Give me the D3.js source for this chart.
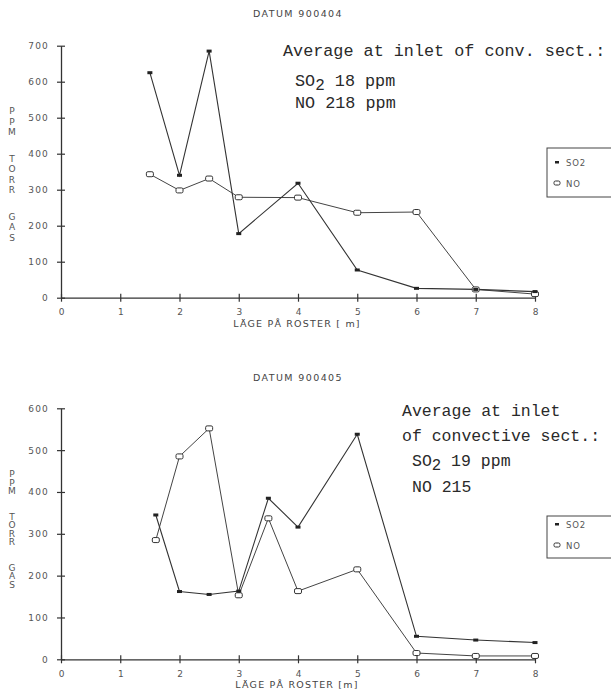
<!DOCTYPE html>
<html><head><meta charset="utf-8">
<script src="https://cdn.jsdelivr.net/npm/d3@7"></script>
<style>body{margin:0;background:#fff}svg{display:block}</style>
</head><body>
<script>
// ---- data ----
const xTickValues = [0,1,2,3,4,5,6,7,8];
const xTickLabels = ["0","1","2","3","4","5","6","7","8"];

const topTitle = "DATUM 900404";
const topYTicks = [0,100,200,300,400,500,600,700];
const topSO2x = [1.5,2,2.5,3,4,5,6,7,8];
const topSO2y = [625,340,685,178,318,77,26,23,17];
const topNOx  = [1.5,2,2.5,3,4,5,6,7,8];
const topNOy  = [343,298,331,279,278,236,238,23,10];
const topNote = ["Average at inlet of conv. sect.:"];
const topNoteSO2 = "18 ppm";
const topNoteNO = "NO 218 ppm";

const botTitle = "DATUM 900405";
const botYTicks = [0,100,200,300,400,500,600];
const botSO2x = [1.6,2,2.5,3,3.5,4,5,6,7,8];
const botSO2y = [345,162,155,163,385,316,538,55,46,40];
const botNOx  = [1.6,2,2.5,3,3.5,4,5,6,7,8];
const botNOy  = [285,485,552,153,337,163,215,15,8,8];
const botNote = ["Average at inlet","of convective sect.:"];
const botNoteSO2 = "19 ppm";
const botNoteNO = "NO 215";

const yLabelLetters = [["P","P","M"],["T","O","R","R"],["G","A","S"]];
const legendNames = ["SO2","NO"];
const xAxisTitle = ["LÄGE PÅ ROSTER [ m]","LÄGE PÅ ROSTER [m]"];

// ---- drawing ----
const W=611,H=696;
const svg=d3.select("body").append("svg").attr("width",W).attr("height",H);
const ink="#333", txt="#555";
const sans="'DejaVu Sans', sans-serif", mono="'Liberation Mono', 'DejaVu Sans Mono', monospace";

function panel(o){
  const x=d3.scaleLinear().domain([0,8]).range([61,535]);
  const y=d3.scaleLinear().domain([0,o.ymax]).range([o.y0,o.ytop]);
  const g=svg.append("g");
  // title
  g.append("text").attr("x",298).attr("y",o.titleY).attr("text-anchor","middle")
    .attr("font-family",sans).attr("font-size",9.5).attr("letter-spacing",1.4).attr("fill","#444").text(o.title);
  // y axis
  const ya=g.append("g").attr("transform","translate(61,0)")
    .call(d3.axisLeft(y).tickValues(o.yTicks).tickSizeOuter(0).tickSize(0).tickPadding(12));
  ya.select(".domain").attr("stroke",ink).attr("stroke-width",1.3);
  ya.selectAll(".tick").append("line").attr("x1",-4).attr("x2",4).attr("stroke",ink).attr("stroke-width",1.2);
  ya.selectAll("text").attr("font-family",sans).attr("font-size",9).attr("letter-spacing",1.2).attr("fill",txt);
  // x axis
  const xa=g.append("g").attr("transform",`translate(0,${o.y0})`)
    .call(d3.axisBottom(x).tickValues(xTickValues).tickFormat((d,i)=>xTickLabels[i]).tickSizeOuter(0).tickSize(0).tickPadding(11));
  xa.select(".domain").attr("stroke",ink).attr("stroke-width",1.3);
  xa.selectAll(".tick").append("line").attr("y1",-4).attr("y2",4).attr("stroke",ink).attr("stroke-width",1.2);
  xa.selectAll("text").attr("font-family",sans).attr("font-size",9).attr("fill",txt);
  g.append("text").attr("x",297).attr("y",o.y0+29).attr("text-anchor","middle")
    .attr("font-family",sans).attr("font-size",9.5).attr("letter-spacing",1.2).attr("fill","#444").text(o.xTitle);
  // y label letters
  let ly=o.labelTop;
  yLabelLetters.forEach(grp=>{
    grp.forEach(ch=>{
      g.append("text").attr("x",12).attr("y",ly).attr("text-anchor","middle")
        .attr("font-family",sans).attr("font-size",9).attr("fill",txt).text(ch);
      ly+=o.letterStep;
    });
    ly+=o.groupGap;
  });
  // lines
  const line=d3.line().x(d=>x(d[0])).y(d=>y(d[1]));
  const so2=o.so2x.map((v,i)=>[v,o.so2y[i]]);
  const no=o.nox.map((v,i)=>[v,o.noy[i]]);
  g.append("path").datum(no).attr("d",line).attr("fill","none").attr("stroke","#444").attr("stroke-width",1);
  g.append("path").datum(so2).attr("d",line).attr("fill","none").attr("stroke",ink).attr("stroke-width",1.1);
  g.selectAll(".no").data(no).enter().append("rect")
    .attr("x",d=>x(d[0])-3.5).attr("y",d=>y(d[1])-2.5).attr("width",7).attr("height",5).attr("rx",1.5)
    .attr("fill","#fff").attr("stroke",ink).attr("stroke-width",1);
  g.selectAll(".so2").data(so2).enter().append("rect")
    .attr("x",d=>x(d[0])-2.5).attr("y",d=>y(d[1])-1.5).attr("width",5).attr("height",3).attr("fill","#222");
  // annotation
  o.note.forEach((t,i)=>{
    g.append("text").attr("x",o.noteX).attr("y",o.noteYs[i]).attr("font-family",mono).attr("font-size",o.noteSize)
      .attr("fill","#2a2a2a").attr("xml:space","preserve").text(t);
  });
  const s=g.append("text").attr("x",o.noteX2).attr("y",o.noteYs[o.note.length]).attr("font-family",mono)
    .attr("font-size",o.noteSize).attr("fill","#2a2a2a");
  s.append("tspan").text("SO");
  s.append("tspan").attr("dy",4).attr("font-size",o.noteSize*0.95).text("2");
  s.append("tspan").attr("dy",-4).text(" "+o.noteSO2);
  g.append("text").attr("x",o.noteX2).attr("y",o.noteYs[o.note.length+1]).attr("font-family",mono)
    .attr("font-size",o.noteSize).attr("fill","#2a2a2a").text(o.noteNO);
  // legend
  g.append("rect").attr("x",547).attr("y",o.legTop).attr("width",70).attr("height",o.legH)
    .attr("fill","none").attr("stroke","#444").attr("stroke-width",1);
  g.append("rect").attr("x",555).attr("y",o.legY[0]-1).attr("width",4).attr("height",2.5).attr("fill","#222");
  g.append("rect").attr("x",554).attr("y",o.legY[1]-2).attr("width",6).attr("height",4).attr("rx",1.5)
    .attr("fill","#fff").attr("stroke",ink);
  legendNames.forEach((n,i)=>{
    g.append("text").attr("x",566).attr("y",o.legY[i]+3.5).attr("font-family",sans).attr("font-size",8.5)
      .attr("letter-spacing",0.8).attr("fill",txt).text(n);
  });
}

panel({title:topTitle,titleY:17,ymax:700,y0:297.7,ytop:45.7,yTicks:topYTicks,xTitle:xAxisTitle[0],
  labelTop:114,letterStep:10.5,groupGap:16,
  so2x:topSO2x,so2y:topSO2y,nox:topNOx,noy:topNOy,
  note:topNote,noteX:283,noteX2:295,noteYs:[56,86,108],noteSize:16.8,noteSO2:topNoteSO2,noteNO:topNoteNO,
  legTop:148,legH:49,legY:[162,183]});

panel({title:botTitle,titleY:381,ymax:600,y0:659.3,ytop:408.3,yTicks:botYTicks,xTitle:xAxisTitle[1],
  labelTop:477,letterStep:8.5,groupGap:17,
  so2x:botSO2x,so2y:botSO2y,nox:botNOx,noy:botNOy,
  note:botNote,noteX:402,noteX2:412,noteYs:[416,441,466,492],noteSize:16.5,noteSO2:botNoteSO2,noteNO:botNoteNO,
  legTop:516,legH:42,legY:[524,545]});
</script>
</body></html>
